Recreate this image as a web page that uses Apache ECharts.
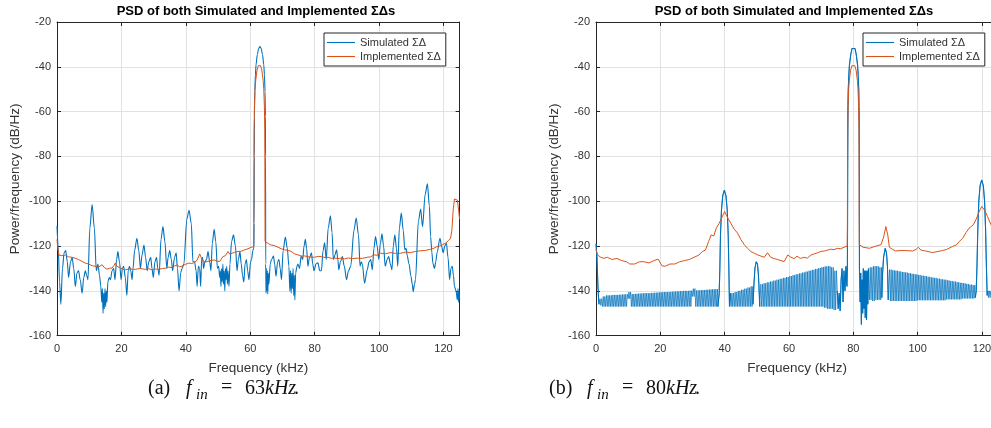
<!DOCTYPE html>
<html><head><meta charset="utf-8">
<script src="https://cdn.jsdelivr.net/npm/echarts/dist/echarts.min.js"></script>
<style>html,body{margin:0;padding:0;background:#fff}#c{width:991px;height:428px}</style>
</head><body><div id="c"></div>
<script>
// ---------------- DATA ----------------
const NAME_SIM = 'Simulated ΣΔ';
const NAME_IMP = 'Implemented ΣΔ';
const xTicks = [0, 20, 40, 60, 80, 100, 120];
const yTicks = [-160, -140, -120, -100, -80, -60, -40, -20];

// (a) f_in = 63 kHz : simulated [kHz, dB/Hz]
const simA = [[0,-111],[0.35,-120],[0.8,-136],[1.2,-146],[1.7,-130],[2.2,-123],[2.7,-122],[3.2,-127],[3.6,-134],[4.2,-127],[4.7,-125],[5.2,-130],[5.7,-138],[6.2,-132],[6.7,-131],[7.2,-135],[7.8,-141],[8.3,-134],[8.8,-131],[9.2,-133],[9.6,-135],[10.2,-112],[10.9,-101.5],[11.6,-112],[12.2,-131],[12.7,-128],[13.2,-133],[13.6,-138],[13.9,-145],[14.1,-139],[14.3,-150],[14.5,-141],[14.7,-148],[14.9,-139],[15.1,-147],[15.3,-140],[15.5,-145],[15.8,-136],[16.2,-134],[16.6,-135],[17.1,-131],[17.6,-130],[18.0,-135],[18.5,-126],[18.9,-122.5],[19.4,-127],[19.9,-135],[20.3,-130],[20.7,-129],[21.2,-134],[21.7,-142],[22.1,-131],[22.5,-129],[22.9,-131],[23.3,-135],[23.6,-130],[24.1,-122],[24.8,-116.5],[25.4,-122],[25.9,-130],[26.4,-124],[27,-119.5],[27.5,-125],[28,-131],[28.5,-127],[29.1,-125],[29.5,-130],[29.9,-134],[30.4,-127],[30.9,-125],[31.3,-130],[31.7,-133],[32.3,-117],[32.9,-111.3],[33.5,-118],[34.1,-130],[34.5,-125],[35,-122],[35.5,-126],[35.9,-131],[36.5,-125],[37,-123],[37.4,-130],[37.9,-140],[38.4,-132],[38.8,-130],[39.4,-128],[40.3,-108],[41,-104],[41.7,-110],[42.2,-127],[42.7,-127],[43.2,-131],[43.5,-138],[43.9,-129],[44.3,-130],[44.6,-138],[44.9,-126],[45.2,-125],[45.5,-130],[45.9,-127],[46.4,-126],[46.9,-122.5],[47.4,-127],[47.8,-131],[48.2,-119],[48.8,-112.5],[49.3,-118],[49.8,-130],[50.2,-129],[50.5,-134],[50.7,-131],[50.9,-138],[51.1,-130],[51.3,-136],[51.5,-128],[51.7,-137],[51.9,-131],[52.1,-140],[52.3,-130],[52.5,-135],[52.7,-129],[52.9,-137],[53.1,-131],[53.4,-138],[53.7,-128],[54.2,-118],[54.8,-115],[55.4,-120],[55.9,-131],[56.3,-126],[56.8,-122.5],[57.2,-128],[57.6,-133],[58.0,-136],[58.4,-128],[58.8,-126],[59.2,-131],[59.6,-135],[60.1,-127],[60.4,-126],[60.8,-122],[61.15,-121],
[61.2,-110],[61.25,-80],[61.3,-62],[61.4,-51],[61.6,-43.5],[61.8,-39],[62.2,-34.5],[62.6,-31.8],[63.0,-31],[63.4,-31.8],[63.8,-34.5],[64.2,-39],[64.4,-43.5],[64.6,-51],[64.7,-62],[64.75,-80],[64.8,-128],
[64.9,-141],[65.0,-130],[65.15,-140],[65.3,-131],[65.45,-141.5],[65.6,-132],[65.8,-137],[66.2,-128],[66.6,-126],[67.2,-124.5],[67.6,-128],[68,-133.5],[68.5,-127],[68.9,-126],[69.3,-130],[69.7,-135],[70.2,-122],[70.9,-116],[71.5,-121],[72,-129],[72.3,-140],[72.5,-131],[72.7,-141],[72.9,-132],[73.1,-139],[73.3,-130],[73.5,-142],[73.7,-133],[73.85,-144],[74.1,-132],[74.5,-129],[74.8,-128],[75.3,-130],[75.8,-124.5],[76.3,-126],[76.7,-120],[77.1,-117],[77.5,-121],[77.9,-129],[78.4,-125],[79,-123],[79.4,-128],[79.8,-131],[80.4,-128],[81,-127.5],[81.6,-131],[82.1,-131],[82.6,-122],[83.1,-118.5],[83.6,-126],[84.2,-112],[84.9,-106.5],[85.4,-114],[85.8,-126],[86.3,-124],[86.8,-121.7],[87.2,-126],[87.5,-130.6],[88,-127],[88.6,-124.7],[89.2,-129],[89.9,-135],[90.5,-131],[91.2,-129],[92.2,-113],[92.9,-107.5],[93.6,-115],[94.1,-129],[94.5,-127],[94.8,-128],[95.5,-136.6],[96.3,-130.6],[96.9,-127],[97.4,-126],[97.9,-130.6],[98.4,-121],[98.9,-115.7],[99.4,-120],[99.9,-126],[100.4,-119],[100.9,-114.5],[101.4,-120],[101.9,-129],[102.5,-126],[103,-124.7],[103.5,-128],[104,-130.6],[104.4,-120],[104.9,-115],[105.4,-121],[105.8,-129],[106.3,-112],[106.9,-105.3],[107.5,-113],[108,-121.7],[108.4,-121],[108.7,-124],[109.3,-128],[109.9,-133.6],[110.3,-137],[110.6,-140.3],[111,-137],[111.3,-135],[112.2,-109],[112.9,-103.5],[113.5,-111.3],[114.3,-97],[115,-92.2],[115.6,-102],[116,-115.7],[116.4,-123],[116.7,-127.6],[117.2,-130],[117.6,-127],[118,-123],[118.9,-116.5],[119.4,-120],[119.9,-123],[120.4,-120],[120.9,-118.7],[121.4,-125],[121.9,-135],[122.3,-130],[122.7,-129],[123.1,-133],[123.4,-138],[123.9,-140],[124.3,-144],[124.5,-139],[124.7,-145],[124.85,-140],[125,-144]];

// (a) implemented
const impA = [[0,-117],[0.25,-121],[0.6,-124],[1.5,-124.3],[2.6,-124],[3.6,-124.8],[4.6,-125],[5.6,-125.4],[6.7,-126],[7.7,-126.8],[8.8,-127.6],[9.8,-128],[10.9,-128.8],[11.9,-129],[12.9,-129.4],[13.5,-129],[14,-128.3],[14.7,-129.6],[15.5,-130.3],[16.3,-129.9],[17.1,-129.8],[17.7,-128.6],[18.1,-127.6],[18.6,-129],[19.1,-129.6],[20.2,-130.1],[21.2,-130.6],[22.7,-130.2],[24.3,-130.4],[25.8,-130],[27.4,-130.4],[28.5,-130.1],[29.5,-130.6],[30.5,-130.2],[31.6,-130.4],[32.7,-130],[33.7,-129.9],[34.7,-129.4],[35.7,-129.6],[36.5,-128.9],[37.3,-128.4],[38,-129.2],[38.8,-129],[39.8,-128.2],[40.9,-127.6],[41.8,-127.8],[42.7,-127.3],[43.5,-126.3],[44.3,-123.5],[44.7,-123.2],[45.2,-126.5],[46,-127.2],[46.9,-126.8],[47.9,-126.4],[48.9,-126.2],[49.7,-126.7],[50.5,-126.9],[51.5,-124.7],[52.3,-124.3],[53.1,-122.4],[53.6,-123.6],[54.1,-123.2],[55.1,-122.8],[56.2,-122.4],[57.2,-122.3],[58.2,-121.7],[59.3,-121.2],[60.3,-120.5],[61.05,-120.4],
[61.1,-110],[61.15,-85],[61.2,-68],[61.3,-58],[61.5,-50],[61.7,-46],[62.1,-41.5],[62.5,-39.5],[62.85,-39],[63.2,-39.5],[63.6,-41.5],[64.0,-46],[64.2,-50],[64.4,-58],[64.5,-68],[64.55,-85],[64.6,-118],
[64.9,-118.6],[65.6,-118.9],[66.4,-119.5],[67.5,-119.8],[68.6,-120.5],[69.6,-121.2],[70.7,-121.7],[71.7,-121.9],[72.7,-122.4],[73.8,-123.5],[74.8,-123.9],[75.9,-124.5],[76.9,-124.4],[78.4,-124.9],[80,-125],[81.1,-124.6],[82.1,-124.7],[83.2,-125.1],[84.2,-125],[85.2,-125.5],[86.2,-125.3],[87.2,-125.6],[88.1,-125.4],[89.3,-125.7],[90.5,-125.3],[91.8,-125.6],[93.2,-125.4],[94.8,-125.5],[96.3,-125],[97.4,-124.8],[98.4,-123.9],[99.4,-124.1],[100.4,-123.2],[102,-123.4],[103.6,-122.9],[105.1,-123.3],[106.7,-123.2],[108.3,-122.7],[109.8,-122.9],[111.3,-122.4],[112.9,-122.1],[114.5,-121.9],[116,-121.4],[117,-121],[118,-120.2],[118.8,-120],[119.6,-119.5],[120.6,-118.7],[121.6,-117.5],[122.2,-116.5],[122.6,-113],[123,-104],[123.4,-99],[123.9,-98.6],[124.3,-99.5],[124.7,-104],[125,-108]];

// (b) f_in = 80 kHz : simulated, the non-comb pieces
const simBStart   = [[0,-119],[0.3,-125],[0.6,-138],[0.9,-146]];
const simBPeak40  = [[37.9,-147],[38.3,-141],[38.5,-130],[38.7,-115],[39,-104],[39.4,-97.5],[39.9,-95],[40.4,-97.5],[40.8,-104],[41.1,-115],[41.3,-130],[41.5,-147],[41.8,-141]];
const simBPeak50  = [[48.8,-146],[49.1,-137],[49.4,-130],[49.8,-127],[50.2,-128],[50.5,-133],[50.75,-141],[50.9,-147]];
const simBMain80  = [[75,-140],[75.3,-148],[75.6,-141],[75.9,-149],[76.2,-135],[76.5,-130],[76.8,-145],[77.1,-131],[77.4,-140],[77.7,-129],[78.0,-138],[78.15,-130],
[78.2,-110],[78.25,-80],[78.3,-62],[78.4,-51],[78.6,-43.5],[78.8,-39],[79.2,-34.5],[79.6,-31.8],[80.05,-31],[80.5,-31.8],[80.9,-34.5],[81.3,-39],[81.5,-43.5],[81.7,-51],[81.8,-62],[81.85,-80],[81.9,-130],
[82.1,-145],[82.3,-132],[82.5,-155],[82.7,-135],[82.9,-150],[83.1,-130],[83.3,-148],[83.5,-131],[83.7,-152],[83.9,-131],[84.1,-153],[84.3,-131],[84.5,-146],[84.7,-130]];
const simBPeak90  = [[88.85,-143],[89.1,-132],[89.4,-125],[89.9,-121],[90.3,-123],[90.6,-129],[90.85,-144]];
const simBPeak120 = [[117.9,-143],[118.2,-140],[118.45,-128],[118.7,-112],[119,-100],[119.4,-93],[119.9,-90.5],[120.4,-93],[120.8,-100],[121.1,-112],[121.35,-128],[121.6,-142],[121.85,-140]];
const simBEnd     = [[124.9,-142],[125,-141]];

// (b) simulated: dense comb floor, read as top / bottom envelope per kHz bin
const combFreq = [1,2,3,4,5,6,7,8,9,10,11,12,13,14,15,16,17,18,19,20,21,22,23,24,25,26,27,28,29,30,31,32,33,34,35,36,37,
42,43,44,45,46,47,48,
51,52,53,54,55,56,57,58,59,60,61,62,63,64,65,66,67,68,69,70,71,72,73,74,
85,86,87,88,
91,92,93,94,95,96,97,98,99,100,101,102,103,104,105,106,107,108,109,110,111,112,113,114,115,116,117,
122,123,124];
const combTop = [-143.5,-142.5,-142,-142,-141.8,-141.8,-141.7,-141.6,-141.5,-140.5,-141.4,-141.3,-141.2,-141.1,-141,-141,-140.9,-140.8,-140.7,-140.6,-140.5,-140.5,-140.4,-140.3,-140.2,-140.1,-140,-140,-139.9,-139,-139.8,-139.7,-139.6,-139.5,-139.4,-139.3,-139.2,
-141,-140.5,-140,-139.5,-139,-138.5,-138,
-137,-136.6,-136.2,-135.8,-135.4,-135,-134.6,-134.2,-133.8,-133.4,-133,-132.6,-132.2,-131.8,-131.4,-131,-130.6,-130.2,-129.8,-129.4,-129.1,-129,-129.5,-131,
-129.5,-129,-129,-129.5,
-130.5,-130.8,-131,-131.3,-131.6,-131.8,-132.1,-132.4,-132.6,-132.9,-133.2,-133.4,-133.7,-134,-134.2,-134.5,-134.8,-135,-135.3,-135.6,-135.8,-136.1,-136.4,-136.6,-136.9,-137.2,-137.4,
-140,-140.5,-141];
const combBottom = [-146.5,-147,-147,-147,-147,-147,-147,-147,-147,-143.5,-147,-147,-147,-147,-147,-147,-147,-147,-147,-147,-147,-147,-147,-147,-147,-147,-147,-147,-147,-142.5,-147,-147,-147,-147,-147,-147,-147,
-147,-147,-147,-147,-147,-147,-147,
-147,-147,-147,-147,-147,-147,-147,-147,-147,-147,-147,-147,-147,-147,-147,-147,-147,-147,-147,-147,-147.5,-148,-148,-148.5,
-144,-144.5,-144,-144,
-144.5,-144.5,-144.5,-144.5,-144.5,-144.5,-144.5,-144.5,-144.5,-144.2,-144.2,-144.2,-144.2,-144.2,-144.2,-144.2,-144.2,-144.2,-143.8,-143.8,-143.8,-143.8,-143.8,-143.4,-143.4,-143.4,-143.4,
-143,-143,-143];

// (b) implemented
const impB = [[0,-121.7],[0.5,-124],[1.5,-125],[2.5,-125.5],[3.5,-125],[5,-126],[6.5,-125.5],[8,-126.5],[9.5,-127],[10.5,-128],[12,-128],[13.5,-127],[15,-127],[16.5,-127.5],[18,-126.5],[19.3,-125.8],[20.5,-128.8],[21.5,-129],[23,-128],[24.5,-128],[26,-127],[27.5,-126.5],[29,-126],[30.5,-125],[32,-124],[33,-122.5],[34,-121.8],[35,-118],[35.8,-115],[36.6,-115.5],[37.4,-112],[38.3,-109.8],[39.2,-107],[40,-104.6],[40.8,-107],[41.9,-109.8],[43,-112.5],[44,-114.2],[45,-117],[46.1,-119.4],[47.1,-121],[48.1,-122.4],[49.2,-123.2],[50.2,-123.9],[51.3,-124.5],[52.3,-125],[53.3,-123],[54.3,-125],[55.4,-125.6],[56.5,-126],[57.5,-126.5],[58.5,-126.9],[59.6,-124],[60.6,-125],[61.6,-125.6],[62.5,-124.5],[63.5,-125.5],[64.7,-125],[65.7,-125.4],[66.8,-124],[67.8,-123.5],[68.9,-123],[69.9,-122.4],[71,-122.2],[72,-121.8],[73,-121.4],[74,-121.6],[75,-121],[76,-121.2],[77.2,-120.5],[78.1,-120],
[78.15,-110],[78.2,-85],[78.25,-68],[78.35,-58],[78.55,-50],[78.75,-46],[79.15,-41.5],[79.55,-39.5],[80,-39],[80.45,-39.5],[80.85,-41.5],[81.25,-46],[81.45,-50],[81.65,-58],[81.75,-68],[81.8,-85],[81.85,-119.4],
[83,-120.5],[85,-121],[87,-120],[88.6,-119.4],[89.4,-116],[90.1,-111.3],[90.7,-115],[91.2,-120.5],[92.2,-121.5],[93.2,-122.2],[94.5,-122],[96.3,-122],[98.4,-122.2],[99.5,-121.5],[100.2,-120.5],[101,-121.8],[102.5,-122.2],[104.6,-122.9],[106,-122.5],[107.7,-122],[109,-121.5],[110.8,-120.2],[112,-119.5],[112.9,-118],[114,-116.5],[115,-114],[116,-112],[116.5,-111.3],[117.3,-110.5],[118.1,-108.3],[119,-105],[119.9,-102.3],[120.8,-104],[121.7,-106.8],[122.8,-110.5],[123.8,-114],[125,-118]];

// --------------- BUILD ----------------
const simBPieces = [simBStart, simBPeak40, simBPeak50, simBMain80, simBPeak90, simBPeak120, simBEnd];
function buildSimBAll() {
  let pts = [];
  simBPieces.forEach(p => { pts = pts.concat(p); });
  combFreq.forEach((f, i) => {
    pts.push([f, combBottom[i]], [f + 0.25, combTop[i]], [f + 0.5, combBottom[i]], [f + 0.75, combTop[i]]);
  });
  pts.sort((a, b) => a[0] - b[0]);
  return pts;
}
function buildSimBPieces() {
  const pts = [];
  simBPieces.forEach((p, i) => { if (i) pts.push('-'); p.forEach(q => pts.push(q)); });
  return pts;
}

const BLUE = '#0072BD', ORANGE = '#D95319', AX = '#262626', TXT = '#333333';
const FONT = 'Liberation Sans, Arial, sans-serif';
const LINE_ICON = 'path://M0,0L28,0L28,1.1L0,1.1Z';
const chart = echarts.init(document.getElementById('c'), null, {renderer: 'canvas'});

const grids = [
  {left: 57, top: 22, width: 402.6, height: 313.7, outerBoundsMode: 'none', containLabel: false},
  {left: 596, top: 22, width: 402.1, height: 313.7, outerBoundsMode: 'none', containLabel: false}
];
const xMin = xTicks[0], xMax = 125, xStep = xTicks[1] - xTicks[0];
const yMin = yTicks[0], yMax = yTicks[yTicks.length - 1], yStep = yTicks[1] - yTicks[0];

function xAxis(g, pos) {
  const main = pos === 'bottom';
  return {
    type: 'value', gridIndex: g, position: pos, min: xMin, max: xMax, interval: xStep,
    axisLine: {show: true, onZero: false, lineStyle: {color: AX, width: 1}},
    axisTick: {show: true, inside: true, length: 4, lineStyle: {color: AX, width: 1}},
    axisLabel: {show: main, margin: 8, color: TXT, fontSize: 11, fontFamily: FONT, showMaxLabel: false},
    splitLine: {show: main, lineStyle: {color: '#e2e2e2', width: 1}},
    name: main ? 'Frequency (kHz)' : '', nameLocation: 'middle', nameGap: 26,
    nameTextStyle: {color: TXT, fontSize: 13.5, fontFamily: FONT}
  };
}
function yAxis(g, pos) {
  const main = pos === 'left';
  return {
    type: 'value', gridIndex: g, position: pos, min: yMin, max: yMax, interval: yStep,
    axisLine: {show: true, onZero: false, lineStyle: {color: AX, width: 1}},
    axisTick: {show: true, inside: true, length: 4, lineStyle: {color: AX, width: 1}},
    axisLabel: {show: main, margin: 6, color: TXT, fontSize: 11, fontFamily: FONT},
    splitLine: {show: main, lineStyle: {color: '#e2e2e2', width: 1}},
    name: main ? 'Power/frequency (dB/Hz)' : '', nameLocation: 'middle', nameGap: 35,
    nameTextStyle: {color: TXT, fontSize: 13.5, fontFamily: FONT}
  };
}
function line(name, data, axisIdx, color, smooth, width) {
  return {
    type: 'line', name, data, xAxisIndex: axisIdx, yAxisIndex: axisIdx,
    symbol: 'none', showSymbol: false, smooth: smooth, smoothMonotone: 'x', connectNulls: false,
    lineStyle: {color, width: width}, itemStyle: {color}, clip: true, animation: false
  };
}
function legend(left) {
  return {
    left, top: 33, orient: 'vertical', selectedMode: false,
    data: [{name: NAME_SIM, icon: LINE_ICON}, {name: NAME_IMP, icon: LINE_ICON}],
    backgroundColor: '#fff', borderColor: AX, borderWidth: 1, borderRadius: 0,
    padding: [4, 5, 4, 3], itemGap: 3, itemWidth: 28, itemHeight: 12,
    textStyle: {fontSize: 11, color: TXT, fontFamily: FONT}
  };
}
function txt(text, x, y, size, opts) {
  opts = opts || {};
  return {
    type: 'text', x, y, silent: true,
    style: {
      text, fill: opts.color || '#111', fontSize: size,
      fontFamily: opts.family || 'Liberation Serif, Times New Roman, serif',
      fontStyle: opts.italic ? 'italic' : 'normal', fontWeight: opts.bold ? 'bold' : 'normal',
      align: opts.align || 'left', textAlign: opts.align || 'left',
      verticalAlign: 'middle', textVerticalAlign: 'middle'
    }
  };
}
function caption(dx, letter, freq) {
  return [
    txt('(' + letter + ')', 148 + dx, 389, 20),
    txt('f', 186 + dx, 389, 20, {italic: true}),
    txt('in', 196 + dx, 395, 15, {italic: true}),
    txt('=', 221 + dx, 388, 20),
    txt(freq, 245 + dx, 389, 20),
    txt('kHz', 265 + dx, 389, 20, {italic: true}),
    txt('.', 294 + dx, 389, 20)
  ];
}
const TITLE = 'PSD of both Simulated and Implemented ΣΔs';

chart.setOption({
  animation: false,
  backgroundColor: '#fff',
  grid: grids,
  xAxis: [xAxis(0, 'bottom'), xAxis(0, 'top'), xAxis(1, 'bottom'), xAxis(1, 'top')],
  yAxis: [yAxis(0, 'left'), yAxis(0, 'right'), yAxis(1, 'left'), yAxis(1, 'right')],
  legend: [legend(324), legend(863)],
  series: [
    line(NAME_SIM, simA, 0, BLUE, 0.3, 1.1),
    line(NAME_IMP, impA, 0, ORANGE, false, 1),
    line(NAME_SIM, buildSimBAll(), 2, BLUE, false, 0.7),
    line(NAME_SIM, buildSimBPieces(), 2, BLUE, false, 1.1),
    line(NAME_IMP, impB, 2, ORANGE, false, 1)
  ],
  graphic: [
    txt(TITLE, 256, 11, 13, {bold: true, align: 'center', family: FONT, color: '#000'}),
    txt(TITLE, 794, 11, 13, {bold: true, align: 'center', family: FONT, color: '#000'})
  ].concat(caption(0, 'a', '63'), caption(401, 'b', '80'))
});
</script></body></html>
